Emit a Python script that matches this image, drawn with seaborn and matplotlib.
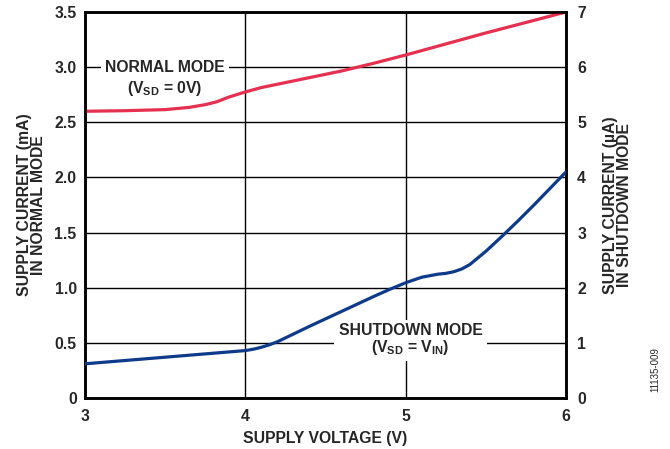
import matplotlib
matplotlib.use("Agg")
import matplotlib.pyplot as plt
import seaborn as sns
import pandas as pd

# Data
normal_v = [3.0, 3.25, 3.5, 3.65, 3.75, 3.82, 3.9, 4.0, 4.1, 4.2, 4.4, 4.6, 4.8, 5.0, 5.25, 5.5, 5.75, 6.0]
normal_ma = [2.60, 2.605, 2.615, 2.635, 2.66, 2.685, 2.73, 2.775, 2.815, 2.845, 2.905, 2.965, 3.035, 3.11, 3.21, 3.31, 3.405, 3.50]

shut_v = [3.0, 3.5, 4.0, 4.05, 4.1, 4.15, 4.2, 4.3, 4.4, 4.6, 4.8, 4.9, 5.0, 5.1, 5.2, 5.25, 5.3, 5.35, 5.4, 5.5, 5.6, 5.7, 5.8, 5.9, 6.0]
shut_ua = [0.62, 0.74, 0.86, 0.885, 0.92, 0.965, 1.02, 1.16, 1.30, 1.57, 1.84, 1.97, 2.09, 2.19, 2.245, 2.26, 2.29, 2.34, 2.42, 2.66, 2.93, 3.21, 3.50, 3.80, 4.10]

x_ticks = [3, 4, 5, 6]
left_ticks = [0, 0.5, 1.0, 1.5, 2.0, 2.5, 3.0, 3.5]
left_labels = ["0", "0.5", "1.0", "1.5", "2.0", "2.5", "3.0", "3.5"]
right_ticks = [0, 1, 2, 3, 4, 5, 6, 7]

sns.set_style("white")
plt.rcParams['font.family'] = ['Liberation Sans', 'DejaVu Sans']
plt.rcParams['font.weight'] = 'bold'
plt.rcParams['mathtext.fontset'] = 'custom'
plt.rcParams['mathtext.rm'] = 'Liberation Sans:bold'
plt.rcParams['mathtext.bf'] = 'Liberation Sans:bold'
plt.rcParams['mathtext.it'] = 'Liberation Sans:bold'
plt.rcParams['mathtext.default'] = 'bf'

fig = plt.figure(figsize=(6.7, 4.49), dpi=100)
ax = fig.add_axes([85/670, 51/449, 481/670, 386/449])
ax2 = ax.twinx()

df_n = pd.DataFrame({"v": normal_v, "i": normal_ma})
df_s = pd.DataFrame({"v": shut_v, "i": shut_ua})

sns.lineplot(data=df_n, x="v", y="i", ax=ax, color="#E5304F", lw=2.3, zorder=3)
sns.lineplot(data=df_s, x="v", y="i", ax=ax2, color="#0E3A8A", lw=2.3, zorder=3)

TF = 11.3
ax.set_xlim(3, 6)
ax.set_ylim(0, 3.5)
ax2.set_ylim(0, 7)
ax.set_xticks(x_ticks)
ax.set_xticklabels([str(t) for t in x_ticks], fontsize=TF, fontweight='bold')
ax.set_yticks(left_ticks)
ax.set_yticklabels(left_labels, fontsize=TF, fontweight='bold')
ax2.set_yticks(right_ticks)
ax2.set_yticklabels([str(t) for t in right_ticks], fontsize=TF, fontweight='bold')

ax.grid(True, color='black', lw=1.0)
ax2.grid(False)
ax.tick_params(axis='x', length=0, pad=8)
ax.tick_params(axis='y', length=0, pad=6)
ax2.tick_params(axis='y', length=0, pad=8)

for a in (ax, ax2):
    for s in a.spines.values():
        s.set_linewidth(1.8)
        s.set_color('black')
        s.set_visible(True)

ax.set_xlabel("SUPPLY VOLTAGE (V)", fontsize=TF, fontweight='bold', labelpad=5)
ax.set_ylabel("SUPPLY CURRENT (mA)\nIN NORMAL MODE", fontsize=TF, fontweight='bold',
              labelpad=6, linespacing=0.95)
ax2.set_ylabel("SUPPLY CURRENT (µA)\nIN SHUTDOWN MODE", fontsize=TF, fontweight='bold',
               labelpad=12, linespacing=0.95)

bbox = dict(facecolor='white', edgecolor='none', pad=3)
ax2.text(3.5, 6.0, "NORMAL MODE", ha='center', va='center',
         fontsize=TF, fontweight='bold', bbox=bbox, zorder=4)
ax2.text(3.5, 5.62, "(V$_{SD}$ = 0V)", ha='center', va='center',
         fontsize=TF, fontweight='bold', zorder=4)
ax2.text(5.03, 1.06, "SHUTDOWN MODE\n(V$_{SD}$ = V$_{IN}$)", ha='center', va='center',
         fontsize=TF, fontweight='bold', linespacing=1.0, bbox=bbox, zorder=4)

fig.text(655/670, 1 - 370/449, "11135-009", rotation=90, fontsize=7,
         fontweight='normal', ha='center', va='center')

fig.savefig("out.png", dpi=100)
